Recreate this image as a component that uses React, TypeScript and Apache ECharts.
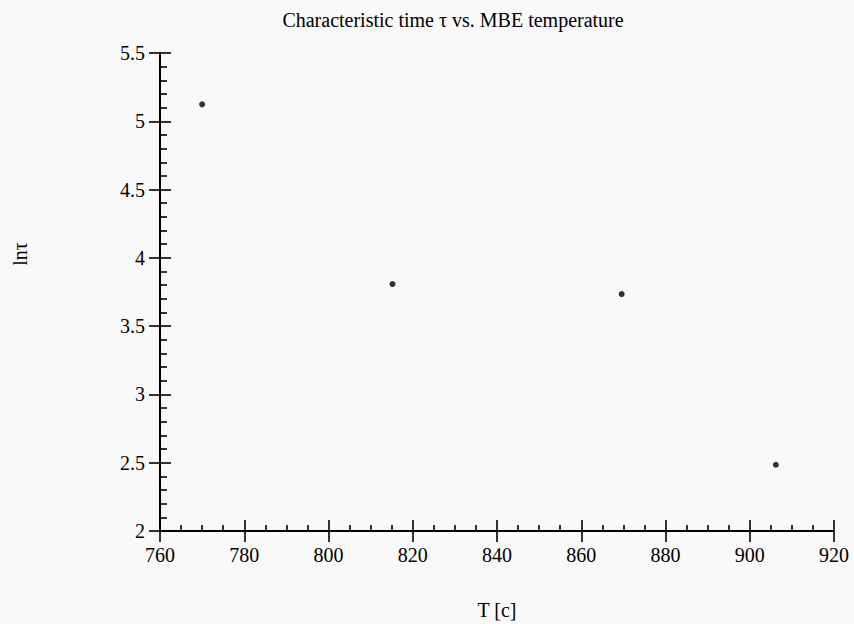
import React, { useEffect, useRef } from "react";
import * as echarts from "echarts";

const temperatures = [770, 815.2, 869.6, 906.2];
const lnTau = [5.124, 3.808, 3.735, 2.485];
const xTicks = { min: 760, max: 920, interval: 20 };
const yTicks = { min: 2, max: 5.5, interval: 0.5 };

const FONT = "Liberation Serif";

export default function App() {
  const ref = useRef<HTMLDivElement>(null);
  useEffect(() => {
    if (!ref.current) return;
    const chart = echarts.init(ref.current, undefined, { renderer: "svg" });
    const data = temperatures.map((t, i) => [t, lnTau[i]]);
    const axisCommon = {
      type: "value" as const,
      splitLine: { show: false },
    };
    chart.setOption({
      animation: false,
      backgroundColor: "#f9f9f9",
      grid: [
        { left: 160, right: 20, top: 53, bottom: 93 },
        { left: 160, right: 20, top: 53, bottom: 169 },
      ],
      xAxis: [
        {
          ...axisCommon,
          min: xTicks.min,
          max: xTicks.max,
          interval: xTicks.interval,
          position: "bottom",
          axisLine: { show: true, lineStyle: { color: "#000", width: 2 } },
          axisTick: { show: true, inside: true, length: 11, lineStyle: { color: "#000", width: 1.6 } },
          minorTick: { show: true, splitNumber: 4, length: 6, lineStyle: { color: "#000", width: 1.6 } },
          axisLabel: { fontFamily: FONT, fontSize: 20, color: "#000", margin: 14 },
        },
        {
          ...axisCommon,
          min: xTicks.min,
          max: xTicks.max,
          interval: xTicks.interval,
          position: "bottom",
          axisLine: { show: false },
          axisTick: { show: true, inside: false, length: 11, lineStyle: { color: "#000", width: 1.6 } },
          axisLabel: { show: false },
        },
        {
          ...axisCommon,
          gridIndex: 1,
          show: false,
        },
      ],
      yAxis: [
        {
          ...axisCommon,
          min: yTicks.min,
          max: yTicks.max,
          interval: yTicks.interval,
          position: "left",
          axisLine: { show: true, lineStyle: { color: "#000", width: 2 } },
          axisTick: { show: true, inside: true, length: 11, lineStyle: { color: "#000", width: 1.6 } },
          minorTick: { show: true, splitNumber: 5, length: 7, lineStyle: { color: "#000", width: 1.6 } },
          axisLabel: { fontFamily: FONT, fontSize: 20, color: "#000", margin: 15 },
        },
        {
          ...axisCommon,
          min: yTicks.min,
          max: yTicks.max,
          interval: yTicks.interval,
          position: "left",
          axisLine: { show: false },
          axisTick: { show: true, inside: false, length: 11, lineStyle: { color: "#000", width: 1.6 } },
          axisLabel: { show: false },
        },
        {
          ...axisCommon,
          gridIndex: 1,
          position: "left",
          axisLine: { show: false },
          axisTick: { show: false },
          axisLabel: { show: false },
          name: "lnτ",
          nameLocation: "middle",
          nameRotate: 90,
          nameGap: 130,
          nameTextStyle: { fontFamily: FONT, fontSize: 20, color: "#000" },
        },
      ],
      graphic: [
        {
          type: "text",
          x: 453,
          y: 20,
          style: {
            text: "Characteristic time τ vs. MBE temperature",
            fontFamily: FONT,
            fontSize: 20,
            fill: "#000",
            align: "center",
            verticalAlign: "middle",
          },
        },
        {
          type: "text",
          x: 497,
          y: 610,
          style: {
            text: "T [c]",
            fontFamily: FONT,
            fontSize: 20,
            fill: "#000",
            align: "center",
            verticalAlign: "middle",
          },
        },
      ],
      series: [
        {
          type: "scatter",
          xAxisIndex: 0,
          yAxisIndex: 0,
          data,
          symbol: "circle",
          symbolSize: 6,
          itemStyle: { color: "#000" },
        },
      ],
    });
    return () => chart.dispose();
  }, []);
  return <div ref={ref} style={{ width: 854, height: 624, position: "absolute", left: 0, top: 0 }} />;
}
